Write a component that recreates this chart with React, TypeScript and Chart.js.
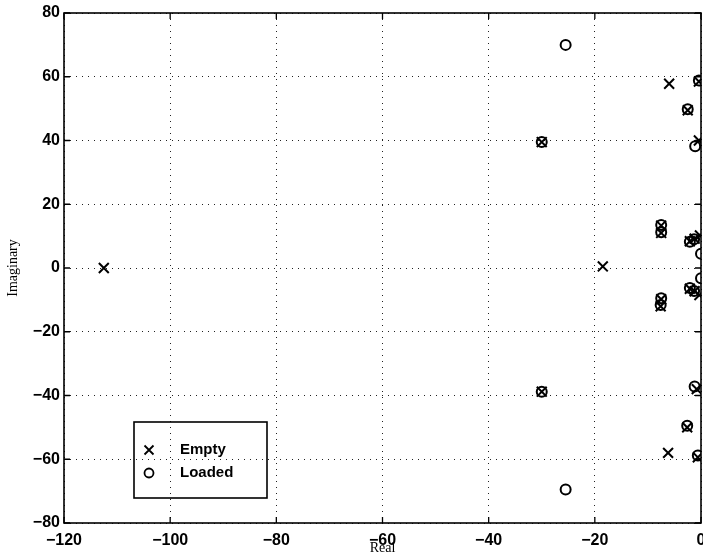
import { useEffect, useRef } from "react";
import { Chart, registerables } from "chart.js";

Chart.register(...registerables);

// ---- data ----
const emptyReal = [-112.5, -18.5, -30, -30, -6, -0.4, -2.5, -0.4, -7.5, -7.5, -2.1, -1.2, -0.2, -2.1, -1.2, -0.3, -7.5, -7.6, -0.8, -2.6, -6.2, -0.6];
const emptyImag = [0, 0.5, 39.5, -38.8, 57.8, 58.5, 49.5, 40, 13.3, 11, 8.4, 9.2, 10.2, -6.5, -7.3, -8.5, -9.8, -12, -38, -50, -58, -59.4];

const loadedReal = [-25.5, -25.5, -30, -30, -0.4, -2.5, -1.1, -7.5, -7.5, -2.1, -1.3, 0, 0, -2.1, -1.3, -7.5, -7.6, -1.2, -2.6, -0.6];
const loadedImag = [70, -69.5, 39.5, -38.8, 58.8, 49.8, 38.2, 13.5, 11.2, 8.2, 9, 4.5, -3.2, -6.3, -7.2, -9.5, -11.6, -37.2, -49.5, -58.8];

const xTickValues = [-120, -100, -80, -60, -40, -20, 0];
const yTickValues = [-80, -60, -40, -20, 0, 20, 40, 60, 80];

const legendLabels = ["Empty", "Loaded"];
const xTitle = "Real";
const yTitle = "Imaginary";

const SANS = "'Liberation Sans', Arial, Helvetica, sans-serif";
const SERIF = "'Liberation Serif', 'Times New Roman', serif";

const fmt = (v: number) => (v < 0 ? "\u2212" + Math.abs(v) : String(v));

const noPadding = (s: any) => {
  s._calculatePadding = function () {
    this.paddingLeft = 0;
    this.paddingRight = 0;
    this.paddingTop = 0;
    this.paddingBottom = 0;
  };
};

const framePlugin = {
  id: "matlabFrame",
  afterDraw(chart: any) {
    const { ctx, chartArea: a, scales } = chart;
    const xs = scales.x;
    const ys = scales.y;
    ctx.save();
    ctx.strokeStyle = "#000";
    ctx.lineWidth = 1.6;
    ctx.setLineDash([]);
    ctx.strokeRect(a.left, a.top, a.right - a.left, a.bottom - a.top);
    const tl = 6;
    ctx.lineWidth = 1.3;
    ctx.beginPath();
    for (const v of xTickValues) {
      const px = xs.getPixelForValue(v);
      ctx.moveTo(px, a.bottom);
      ctx.lineTo(px, a.bottom - tl);
      ctx.moveTo(px, a.top);
      ctx.lineTo(px, a.top + tl);
    }
    for (const v of yTickValues) {
      const py = ys.getPixelForValue(v);
      ctx.moveTo(a.left, py);
      ctx.lineTo(a.left + tl, py);
      ctx.moveTo(a.right, py);
      ctx.lineTo(a.right - tl, py);
    }
    ctx.stroke();

    const lx = a.left + 70;
    const ly = a.top + 409;
    const lw = 133;
    const lh = 76;
    ctx.lineWidth = 1.6;
    ctx.strokeRect(lx, ly, lw, lh);
    const mx = lx + 15;
    const my1 = ly + 28;
    const my2 = ly + 51;
    ctx.lineWidth = 1.8;
    ctx.beginPath();
    ctx.moveTo(mx - 4.5, my1 - 4.5);
    ctx.lineTo(mx + 4.5, my1 + 4.5);
    ctx.moveTo(mx + 4.5, my1 - 4.5);
    ctx.lineTo(mx - 4.5, my1 + 4.5);
    ctx.stroke();
    ctx.beginPath();
    ctx.arc(mx, my2, 4.5, 0, Math.PI * 2);
    ctx.stroke();
    ctx.fillStyle = "#000";
    ctx.font = `bold 15px ${SANS}`;
    ctx.textAlign = "left";
    ctx.textBaseline = "middle";
    ctx.fillText(legendLabels[0], lx + 46, my1);
    ctx.fillText(legendLabels[1], lx + 46, my2);

    ctx.font = `14px ${SERIF}`;
    ctx.textAlign = "center";
    ctx.textBaseline = "middle";
    ctx.fillText(xTitle, (a.left + a.right) / 2, 548);
    ctx.save();
    ctx.translate(13, (a.top + a.bottom) / 2);
    ctx.rotate(-Math.PI / 2);
    ctx.fillText(yTitle, 0, 0);
    ctx.restore();
    ctx.restore();
  },
};

export default function App() {
  const ref = useRef<HTMLCanvasElement | null>(null);

  useEffect(() => {
    document.body.style.margin = "0";
    const canvas = ref.current;
    if (!canvas) return;
    const chart = new Chart(canvas, {
      type: "scatter",
      data: {
        datasets: [
          {
            label: legendLabels[0],
            data: emptyReal.map((x, i) => ({ x, y: emptyImag[i] })),
            pointStyle: "crossRot",
            pointRadius: 7,
            pointBorderWidth: 2,
            borderColor: "#000",
            backgroundColor: "#000",
            clip: 0,
          } as any,
          {
            label: legendLabels[1],
            data: loadedReal.map((x, i) => ({ x, y: loadedImag[i] })),
            pointStyle: "circle",
            pointRadius: 5,
            pointBorderWidth: 2,
            borderColor: "#000",
            backgroundColor: "rgba(0,0,0,0)",
            clip: 0,
          } as any,
        ],
      },
      options: {
        responsive: false,
        animation: false,
        events: [],
        layout: { autoPadding: false, padding: { top: 13, right: 2, left: 0, bottom: 0 } },
        plugins: {
          legend: { display: false },
          tooltip: { enabled: false },
        },
        scales: {
          x: {
            type: "linear",
            min: -120,
            max: 0,
            afterBuildTicks: (s: any) => {
              s.ticks = xTickValues.map((v) => ({ value: v }));
            },
            beforeFit: noPadding,
            afterFit: (s: any) => {
              s.height = 35;
            },
            ticks: {
              color: "#000",
              font: { family: SANS, size: 16, weight: "bold" },
              padding: 8,
              maxRotation: 0,
              autoSkip: false,
              callback: (v: any) => fmt(Number(v)),
            },
            grid: { color: "#222", lineWidth: 1, drawTicks: false },
            border: { display: false, dash: [1, 5] },
          },
          y: {
            type: "linear",
            min: -80,
            max: 80,
            afterBuildTicks: (s: any) => {
              s.ticks = yTickValues.map((v) => ({ value: v }));
            },
            beforeFit: noPadding,
            afterFit: (s: any) => {
              s.width = 64;
            },
            ticks: {
              color: "#000",
              font: { family: SANS, size: 16, weight: "bold" },
              padding: 4,
              autoSkip: false,
              callback: (v: any) => fmt(Number(v)),
            },
            grid: { color: "#222", lineWidth: 1, drawTicks: false },
            border: { display: false, dash: [1, 5] },
          },
        },
      },
      plugins: [framePlugin],
    });
    return () => chart.destroy();
  }, []);

  return <canvas ref={ref} width={703} height={558} style={{ display: "block" }} />;
}
